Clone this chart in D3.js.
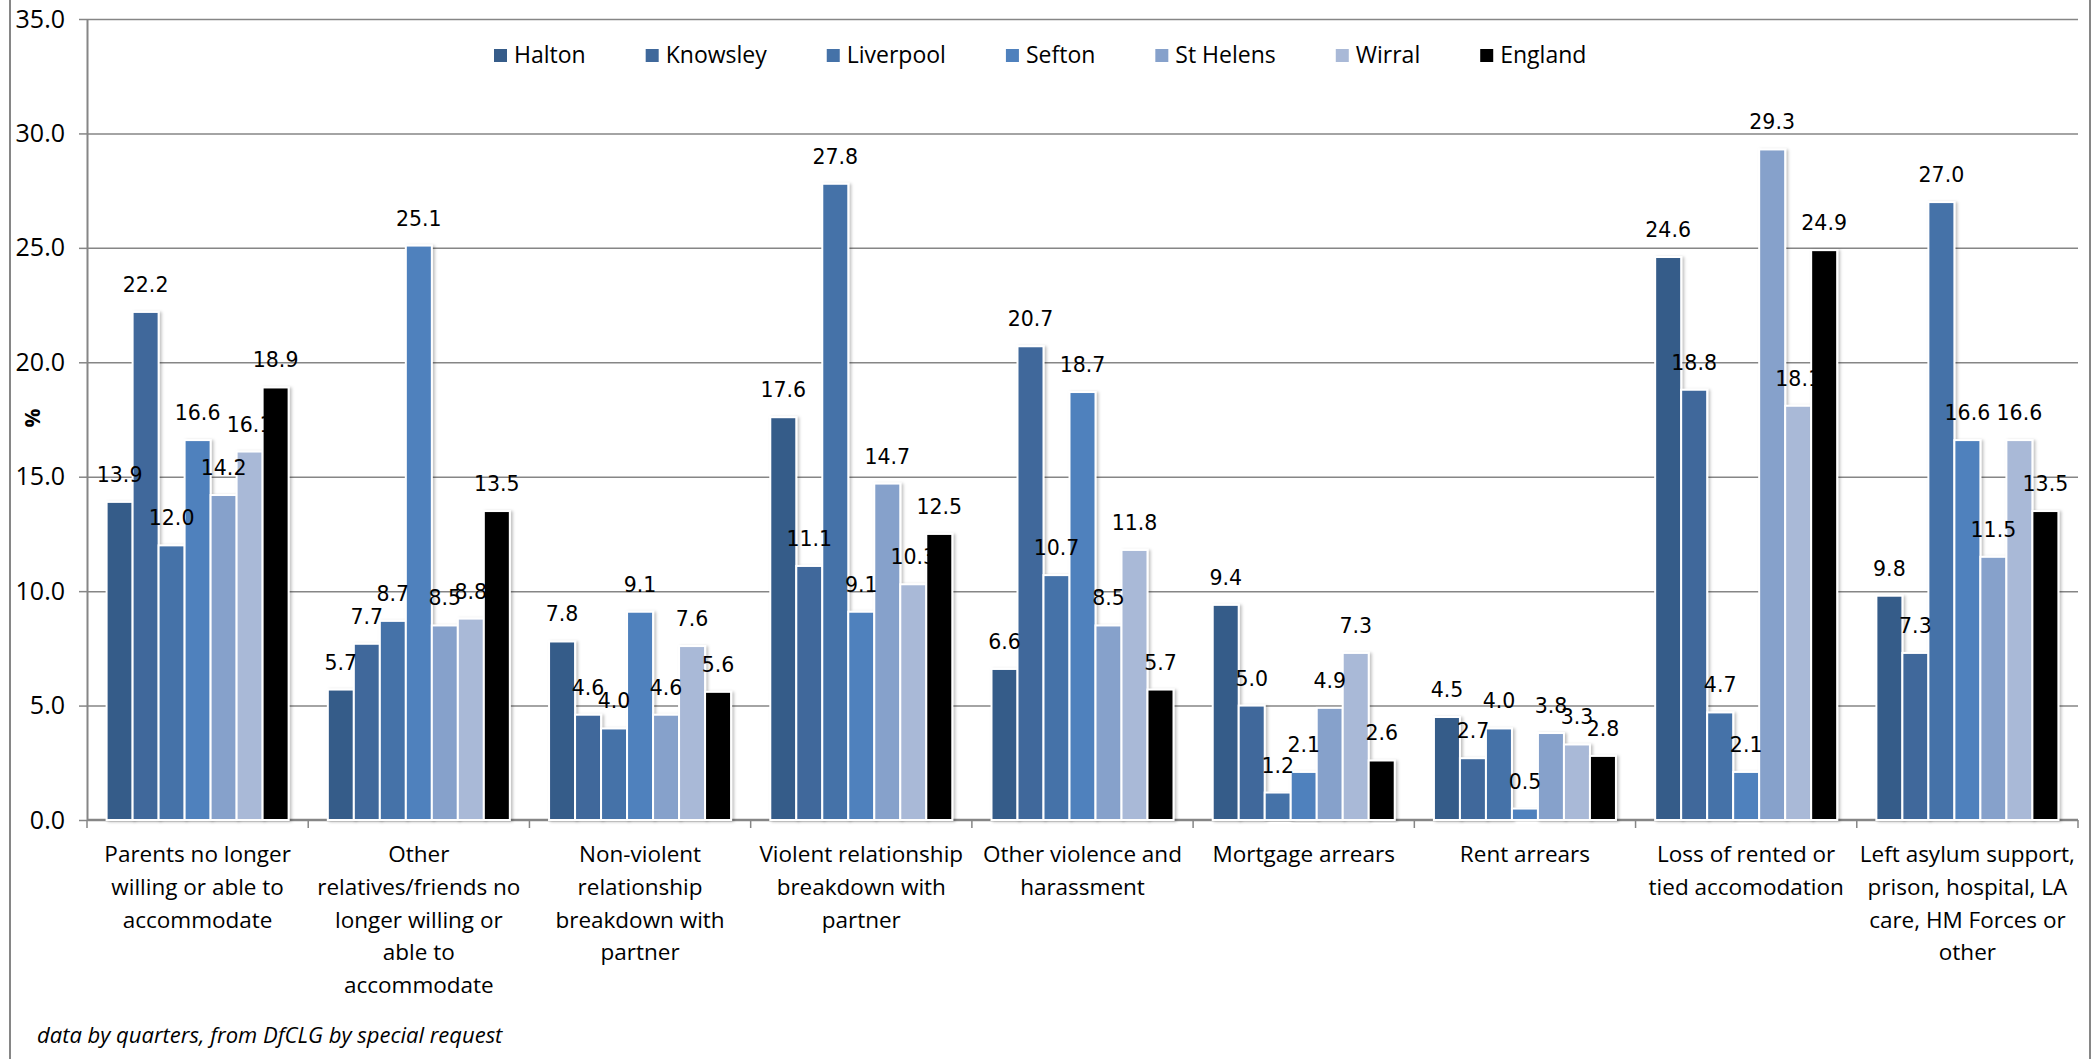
<!DOCTYPE html>
<html>
<head>
<meta charset="utf-8">
<script src="https://cdn.jsdelivr.net/npm/d3@7"></script>
<style>
  body { margin: 0; background: #fff; }
  text { font-family: "Open Sans", sans-serif; fill: #000; }
</style>
</head>
<body>
<svg id="chart" width="2098" height="1059"></svg>
<script>
// data
const categories = [
  "Parents no longer willing or able to accommodate",
  "Other relatives/friends no longer willing or able to accommodate",
  "Non-violent relationship breakdown with partner",
  "Violent relationship breakdown with partner",
  "Other violence and harassment",
  "Mortgage arrears",
  "Rent arrears",
  "Loss of rented or tied accomodation",
  "Left asylum support, prison, hospital, LA care, HM Forces or other",
];
const categoryLines = [
  ["Parents no longer", "willing or able to", "accommodate"],
  ["Other", "relatives/friends no", "longer willing or", "able to", "accommodate"],
  ["Non-violent", "relationship", "breakdown with", "partner"],
  ["Violent relationship", "breakdown with", "partner"],
  ["Other violence and", "harassment"],
  ["Mortgage arrears"],
  ["Rent arrears"],
  ["Loss of rented or", "tied accomodation"],
  ["Left asylum support,", "prison, hospital, LA", "care, HM Forces or", "other"],
];
const seriesNames = ["Halton", "Knowsley", "Liverpool", "Sefton", "St Helens", "Wirral", "England"];
const halton = [13.9, 5.7, 7.8, 17.6, 6.6, 9.4, 4.5, 24.6, 9.8];
const knowsley = [22.2, 7.7, 4.6, 11.1, 20.7, 5.0, 2.7, 18.8, 7.3];
const liverpool = [12.0, 8.7, 4.0, 27.8, 10.7, 1.2, 4.0, 4.7, 27.0];
const sefton = [16.6, 25.1, 9.1, 9.1, 18.7, 2.1, 0.5, 2.1, 16.6];
const stHelens = [14.2, 8.5, 4.6, 14.7, 8.5, 4.9, 3.8, 29.3, 11.5];
const wirral = [16.1, 8.8, 7.6, 10.3, 11.8, 7.3, 3.3, 18.1, 16.6];
const england = [18.9, 13.5, 5.6, 12.5, 5.7, 2.6, 2.8, 24.9, 13.5];
const yTicks = [0, 5, 10, 15, 20, 25, 30, 35];

const seriesValues = [halton, knowsley, liverpool, sefton, stHelens, wirral, england];
const seriesColors = ["#365c89", "#3f689b", "#4572a8", "#4f81bd", "#86a1cb", "#a9b9d7", "#000000"];

const plot = { left: 87, right: 2078, top: 19, bottom: 820 };
const gridColor = "#868686";

const svg = d3.select("#chart");

// outer chart border
svg
  .append("rect")
  .attr("x", 10)
  .attr("y", -10)
  .attr("width", 2080)
  .attr("height", 1080)
  .attr("fill", "none")
  .attr("stroke", gridColor)
  .attr("stroke-width", 2);

let shadow = svg.append("defs").append("filter").attr("id", "shadow")
  .attr("x", "-20%").attr("y", "-5%").attr("width", "150%").attr("height", "110%");
shadow
  .append("feDropShadow")
  .attr("dx", 2)
  .attr("dy", 1)
  .attr("stdDeviation", 1.5)
  .attr("flood-color", "#000")
  .attr("flood-opacity", 0.25);

let yScale = d3.scaleLinear().domain([0, 35]).range([plot.bottom, plot.top]);
let xScale = d3.scaleBand().domain(categories).range([plot.left, plot.right]);

const groupWidth = 182;
let xInner = d3
  .scaleBand()
  .domain(seriesNames)
  .range([(xScale.bandwidth() - groupWidth) / 2, (xScale.bandwidth() + groupWidth) / 2]);

// gridlines
svg
  .append("g")
  .attr("transform", `translate(${plot.left}, 0)`)
  .call(d3.axisLeft(yScale).tickValues(yTicks.slice(1)).tickSize(-(plot.right - plot.left)).tickFormat(""))
  .call((g) => g.select(".domain").remove())
  .selectAll("line")
  .attr("stroke", gridColor)
  .attr("stroke-width", 1.5);

// y axis with labels
let yAxis = svg
  .append("g")
  .attr("transform", `translate(${plot.left}, 0)`)
  .call(d3.axisLeft(yScale).tickValues(yTicks).tickSize(8).tickSizeOuter(0).tickPadding(14).tickFormat(d3.format(".1f")));
yAxis.select(".domain").attr("stroke", gridColor).attr("stroke-width", 2);
yAxis.selectAll("line").attr("stroke", gridColor).attr("stroke-width", 1.5);
yAxis.selectAll("text").style("font-size", "25px").attr("fill", "#000");

// x axis line and category boundary ticks
svg
  .append("line")
  .attr("x1", plot.left)
  .attr("x2", plot.right)
  .attr("y1", plot.bottom)
  .attr("y2", plot.bottom)
  .attr("stroke", gridColor)
  .attr("stroke-width", 2.5);

let boundaries = categories.map((c) => xScale(c)).concat([plot.right]);
svg
  .append("g")
  .selectAll("line")
  .data(boundaries)
  .join("line")
  .attr("x1", (d) => d)
  .attr("x2", (d) => d)
  .attr("y1", plot.bottom)
  .attr("y2", plot.bottom + 8)
  .attr("stroke", gridColor)
  .attr("stroke-width", 1.5);

// bars
let barData = [];
seriesNames.forEach((name, i) => {
  categories.forEach((cat, j) => {
    barData.push({ name: name, cat: cat, value: seriesValues[i][j], color: seriesColors[i] });
  });
});

svg
  .append("g")
  .selectAll("rect")
  .data(barData)
  .join("rect")
  .attr("x", (d) => xScale(d.cat) + xInner(d.name))
  .attr("y", (d) => yScale(d.value))
  .attr("width", xInner.bandwidth())
  .attr("height", (d) => plot.bottom - yScale(d.value))
  .attr("fill", (d) => d.color)
  .attr("stroke", "#fff")
  .attr("stroke-width", 2)
  .attr("filter", "url(#shadow)");

// value labels
svg
  .append("g")
  .selectAll("text")
  .data(barData)
  .join("text")
  .attr("x", (d) => xScale(d.cat) + xInner(d.name) + xInner.bandwidth() / 2)
  .attr("y", (d) => yScale(d.value) - 20)
  .attr("text-anchor", "middle")
  .style("font-family", "'DejaVu Sans', Verdana, sans-serif")
  .style("font-size", "20.5px")
  .text((d) => d.value.toFixed(1));

// category labels
let catLabels = svg
  .append("g")
  .selectAll("text")
  .data(categories)
  .join("text")
  .attr("text-anchor", "middle")
  .style("font-size", "22.5px");
catLabels.each(function (cat, j) {
  let x = xScale(cat) + xScale.bandwidth() / 2;
  d3.select(this)
    .selectAll("tspan")
    .data(categoryLines[j])
    .join("tspan")
    .attr("x", x)
    .attr("y", (d, k) => 862 + k * 32.8)
    .text((d) => d);
});

// legend
let legendX = 494;
seriesNames.forEach((name, i) => {
  svg
    .append("rect")
    .attr("x", legendX)
    .attr("y", 49)
    .attr("width", 13)
    .attr("height", 13)
    .attr("fill", seriesColors[i]);
  let t = svg
    .append("text")
    .attr("x", legendX + 20)
    .attr("y", 55)
    .attr("dy", "0.35em")
    .style("font-size", "23px")
    .text(name);
  legendX += 20 + t.node().getComputedTextLength() + 60;
});

// axis title
svg
  .append("text")
  .attr("transform", "translate(33, 418) rotate(-90)")
  .attr("text-anchor", "middle")
  .attr("dy", "0.35em")
  .style("font-size", "21px")
  .style("font-weight", "bold")
  .text("%");

// source note
svg
  .append("text")
  .attr("x", 37)
  .attr("y", 1043)
  .style("font-size", "22px")
  .style("font-style", "italic")
  .text("data by quarters, from DfCLG by special request");
</script>
</body>
</html>
